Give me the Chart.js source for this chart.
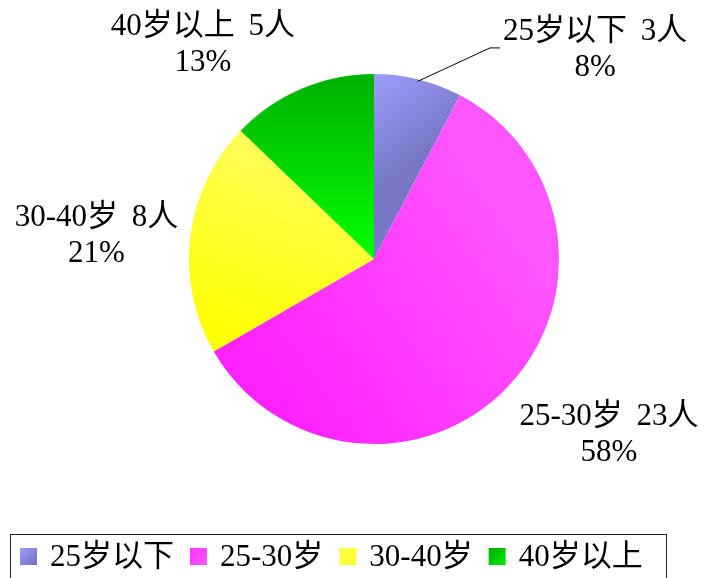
<!DOCTYPE html>
<html><head><meta charset="utf-8">
<script src="https://cdn.jsdelivr.net/npm/chart.js@4.4.0/dist/chart.umd.min.js"></script>
<style>html,body{margin:0;padding:0;background:#fff;overflow:hidden}</style>
</head><body>
<canvas id="c" width="707" height="578"></canvas>
<script>
const categories = ['25岁以下', '25-30岁', '30-40岁', '40岁以上'];
const counts = [3, 23, 8, 5];
const percentLabels = ['8%', '58%', '21%', '13%'];
const unit = '人';

const FONT = "'Liberation Serif', 'Noto Sans CJK SC', serif";

function geom(chart) {
  const a = chart.chartArea;
  return { cx: (a.left + a.right) / 2, cy: (a.top + a.bottom) / 2,
           r: Math.min(a.right - a.left, a.bottom - a.top) / 2 };
}

function sliceFill(chart, i) {
  const g = geom(chart), ctx = chart.ctx, cx = g.cx, cy = g.cy, r = g.r;
  let gr;
  if (i === 0) {
    gr = ctx.createLinearGradient(cx, cy - r, cx + 0.3 * r, cy - 0.6 * r);
    gr.addColorStop(0, '#9c9cff'); gr.addColorStop(1, '#7878c6');
  } else if (i === 1) {
    gr = ctx.createLinearGradient(cx - 0.7 * r, cy + 0.5 * r, cx + 0.6 * r, cy - 0.4 * r);
    gr.addColorStop(0, '#ff22ff'); gr.addColorStop(1, '#ff55ff');
  } else if (i === 2) {
    gr = ctx.createLinearGradient(cx - 0.6 * r, cy - 0.6 * r, cx - 0.9 * r, cy + 0.4 * r);
    gr.addColorStop(0, '#ffff55'); gr.addColorStop(1, '#ffff00');
  } else {
    gr = ctx.createLinearGradient(cx, cy - r, cx, cy);
    gr.addColorStop(0, '#00b000'); gr.addColorStop(1, '#00ff00');
  }
  return gr;
}

const solid = ['#8888dd', '#ff44ff', '#ffff33', '#00cc00'];

const labelPlugin = {
  id: 'sliceLabels',
  afterDatasetsDraw(chart) {
    const ctx = chart.ctx;
    const { cx, cy, r } = geom(chart);
    const meta = chart.getDatasetMeta(0);
    const offs = [[1.195, -1.13], [1.27, 0.95], [-1.50, -0.125], [-0.925, -1.155]];
    ctx.save();
    ctx.fillStyle = '#000';
    ctx.font = '31px ' + FONT;
    ctx.textAlign = 'center';
    ctx.textBaseline = 'middle';
    try { ctx.wordSpacing = '6px'; } catch (e) {}
    categories.forEach((c, i) => {
      const x = cx + offs[i][0] * r, y = cy + offs[i][1] * r;
      ctx.fillText(c + ' ' + counts[i] + unit, x, y - 18);
      ctx.fillText(percentLabels[i], x, y + 18);
    });
    // leader line for the first slice
    const arc = meta.data[0];
    const mid = (arc.startAngle + arc.endAngle) / 2;
    ctx.strokeStyle = '#000';
    ctx.lineWidth = 1;
    ctx.beginPath();
    ctx.moveTo(cx + Math.cos(mid) * (r - 2), cy + Math.sin(mid) * (r - 2));
    ctx.lineTo(cx + 0.627 * r, cy - 1.141 * r);
    ctx.lineTo(cx + 0.681 * r, cy - 1.141 * r);
    ctx.stroke();
    ctx.restore();
  },
  afterDraw(chart) {
    const ctx = chart.ctx;
    ctx.save();
    ctx.strokeStyle = '#222';
    ctx.lineWidth = 1;
    ctx.strokeRect(10.5, 534.5, 656, 80);
    ctx.font = '31px ' + FONT;
    ctx.textBaseline = 'middle';
    ctx.textAlign = 'left';
    const markerCols = [['#9c9cff', '#7070c0'], ['#ff33ff', '#ff55ff'], ['#ffff55', '#ffff22'], ['#00aa00', '#00ee00']];
    let x = 20;
    const my = 548, ms = 17;
    categories.forEach((c, i) => {
      const g = ctx.createLinearGradient(x, my, x + ms, my + ms);
      g.addColorStop(0, markerCols[i][0]); g.addColorStop(1, markerCols[i][1]);
      ctx.fillStyle = g;
      ctx.fillRect(x, my, ms, ms);
      ctx.fillStyle = '#000';
      const tx = x + ms + 13;
      ctx.fillText(c, tx, 558);
      x = tx + ctx.measureText(c).width + 16;
    });
    ctx.restore();
  }
};

new Chart(document.getElementById('c'), {
  type: 'pie',
  data: {
    labels: categories,
    datasets: [{
      data: counts,
      backgroundColor: (ctx) => ctx.chart.chartArea ? sliceFill(ctx.chart, ctx.dataIndex) : solid[ctx.dataIndex],
      borderWidth: 0
    }]
  },
  options: {
    responsive: false,
    animation: false,
    devicePixelRatio: 1,
    layout: { padding: { left: 189, right: 148, top: 74, bottom: 134 } },
    plugins: { legend: { display: false }, tooltip: { enabled: false } }
  },
  plugins: [labelPlugin]
});
</script>
</body></html>
